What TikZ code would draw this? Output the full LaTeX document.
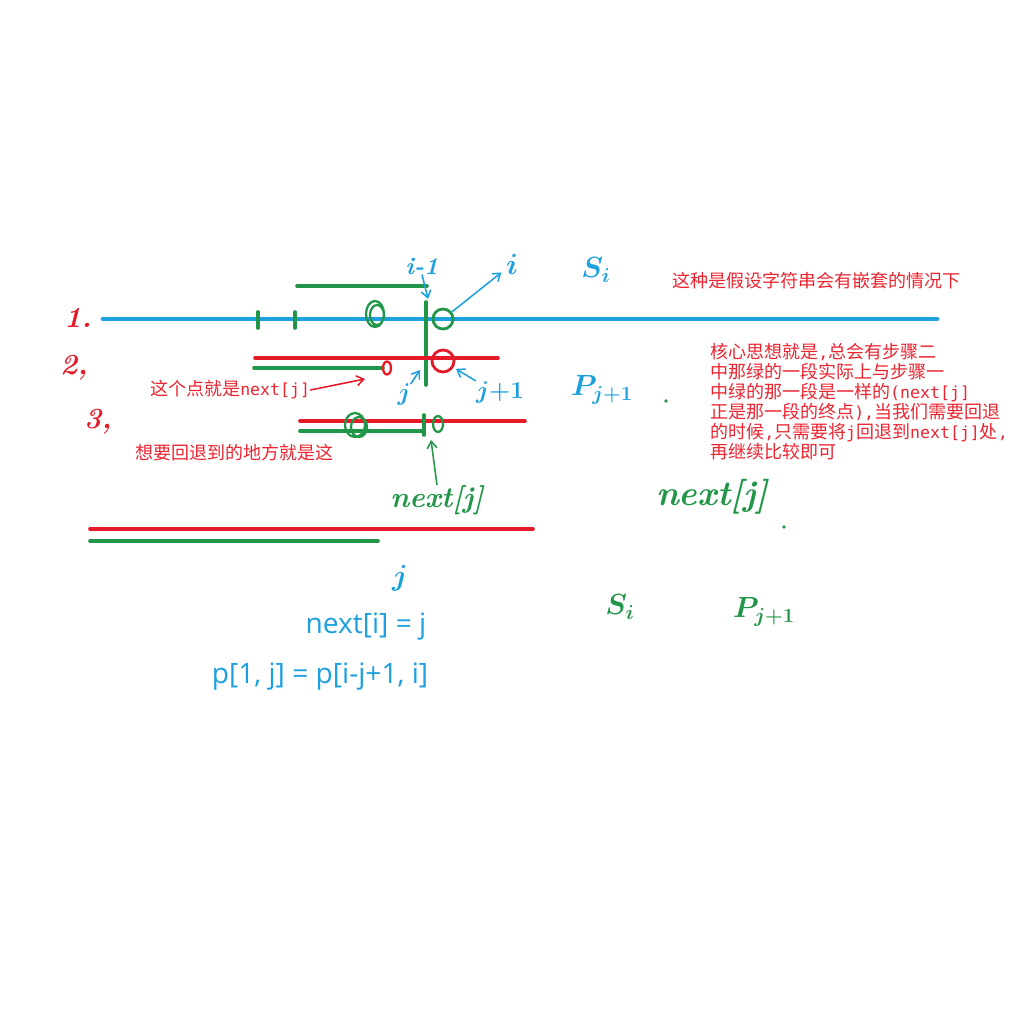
\documentclass[tikz,border=0pt]{standalone}
\usepackage{fontspec}
\usetikzlibrary{arrows.meta}
\newfontfamily\cjk{Noto Sans CJK SC}
\newfontfamily\formula{Open Sans}
\setmonofont[Scale=0.92]{DejaVu Sans Mono}
\definecolor{skyblue}{RGB}{28,160,222}
\definecolor{penred}{RGB}{228,26,40}
\definecolor{pengreen}{RGB}{34,150,72}
\definecolor{notered}{RGB}{236,36,48}
\newcommand\lat[1]{\texttt{#1}}

\begin{document}
\begin{tikzpicture}[x=0.25mm, y=-0.25mm, >={Straight Barb[length=5pt,width=7pt]},
    pen/.style={line width=2.6pt, line cap=round},
    scribble/.style={line width=1.6pt},
    arrow/.style={->, line width=1.1pt},
    hand/.style={inner sep=0pt, font=\huge\bfseries\boldmath},
    note/.style={inner sep=0pt, anchor=west, text=notered, font=\cjk\fontsize{12.8}{14.2}\selectfont},
    ring/.style={circle, draw, line width=2pt, inner sep=0pt, minimum size=5mm}]
    \useasboundingbox (0,0) rectangle (1024,1024);
    % step 1
    \node[hand, text=penred] (n1) at (78,318) {\itshape 1.};
    \draw[pen, skyblue, line width=3.4pt] (103,319) -- (937,319);
    \draw[pen, pengreen] (258,312) -- (258,328);
    \draw[pen, pengreen] (295,312) -- (295,328);
    \draw[scribble, pengreen] (375,314) ellipse (9 and 13) (377,315) ellipse (7 and 10);
    \draw[pen, pengreen] (297,286) -- (427,286);
    \draw[pen, pengreen] (426,302) -- (426,385);
    \node[ring, draw=pengreen] (ci) at (443,319) {};
    \node[hand, text=skyblue, font=\LARGE\bfseries] (im1) at (422,266) {\itshape i-1};
    \coordinate (top) at (428,299);
    \draw[arrow, skyblue] (im1.south) -- (top);
    \node[hand, text=skyblue] (i) at (512,264) {$i$};
    \draw[arrow, skyblue, shorten >=4pt] (ci) -- (i);
    \node[hand, text=skyblue] (si) at (596,270) {$S_i$};
    \node[note] (case) at (672,281) {这种是假设字符串会有嵌套的情况下};
    % step 2
    \node[hand, text=penred] (n2) at (74,368) {\itshape 2,};
    \draw[pen, penred] (255,358) -- (498,358);
    \draw[pen, pengreen] (254,368) -- (383,368);
    \draw[scribble, penred] (387,368) ellipse (4 and 6.5);
    \node[ring, draw=penred, minimum size=5.5mm] (cj) at (443,361) {};
    \node[hand, text=skyblue, font=\LARGE\bfseries\boldmath] (j) at (404,394) {$j$};
    \coordinate (jx) at (420,370);
    \draw[arrow, skyblue] (j) -- (jx);
    \node[hand, text=skyblue, font=\LARGE\bfseries\boldmath] (j1) at (500,392) {$j{+}1$};
    \draw[arrow, skyblue, shorten >=2pt] (j1.north west) -- (cj);
    \node[note] (point) at (150,390) {这个点就是\lat{next[j]}};
    \coordinate (pointend) at (365,379);
    \draw[arrow, penred] (point.east) -- (pointend);
    \node[hand, text=skyblue] (pj1) at (602,390) {$P_{j+1}$};
    \fill[pengreen] (666,401) circle (1.8);
    % step 3
    \node[hand, text=penred] (n3) at (98,422) {\itshape 3,};
    \draw[pen, penred] (300,421) -- (525,421);
    \draw[pen, pengreen] (300,431) -- (424,431);
    \draw[scribble, pengreen] (355,425) ellipse (10 and 12) (359,427) ellipse (8 and 10);
    \draw[pen, pengreen] (424,415) -- (424,435);
    \draw[scribble, pengreen] (438,424) ellipse (5 and 8);
    \node[note] (back) at (135,453) {想要回退到的地方就是这};
    \node[hand, text=pengreen, font=\huge\bfseries] (nj) at (437,500) {\itshape next[j]};
    \coordinate (tick) at (431,440);
    \draw[arrow, pengreen] (nj.north) -- (tick);
    % idea
    \node[note, anchor=north west, align=left] (idea) at (710,343)
        {核心思想就是\lat{,}总会有步骤二\\
         中那绿的一段实际上与步骤一\\
         中绿的那一段是一样的\lat{(next[j]}\\
         正是那一段的终点\lat{),}当我们需要回退\\
         的时候\lat{,}只需要将\lat{j}回退到\lat{next[j]}处\lat{,}\\
         再继续比较即可};
    \node[hand, text=pengreen, font=\Huge\bfseries] (nj2) at (712,497) {\itshape next[j]};
    \fill[pengreen] (784,527) circle (1.8);
    % bottom
    \draw[pen, penred] (90,529) -- (533,529);
    \draw[pen, pengreen] (90,541) -- (378,541);
    \node[hand, text=skyblue] (jb) at (400,578) {$j$};
    \node[text=skyblue, font=\formula\fontsize{20}{24}\selectfont, inner sep=0pt] (nexti) at (366,627) {next[i] = j};
    \node[text=skyblue, font=\formula\fontsize{20}{24}\selectfont, inner sep=0pt] (pij) at (320,677) {p[1, j] = p[i-j+1, i]};
    \node[hand, text=pengreen] (si2) at (620,607) {$S_i$};
    \node[hand, text=pengreen] (pj2) at (764,612) {$P_{j+1}$};
\end{tikzpicture}
\end{document}
